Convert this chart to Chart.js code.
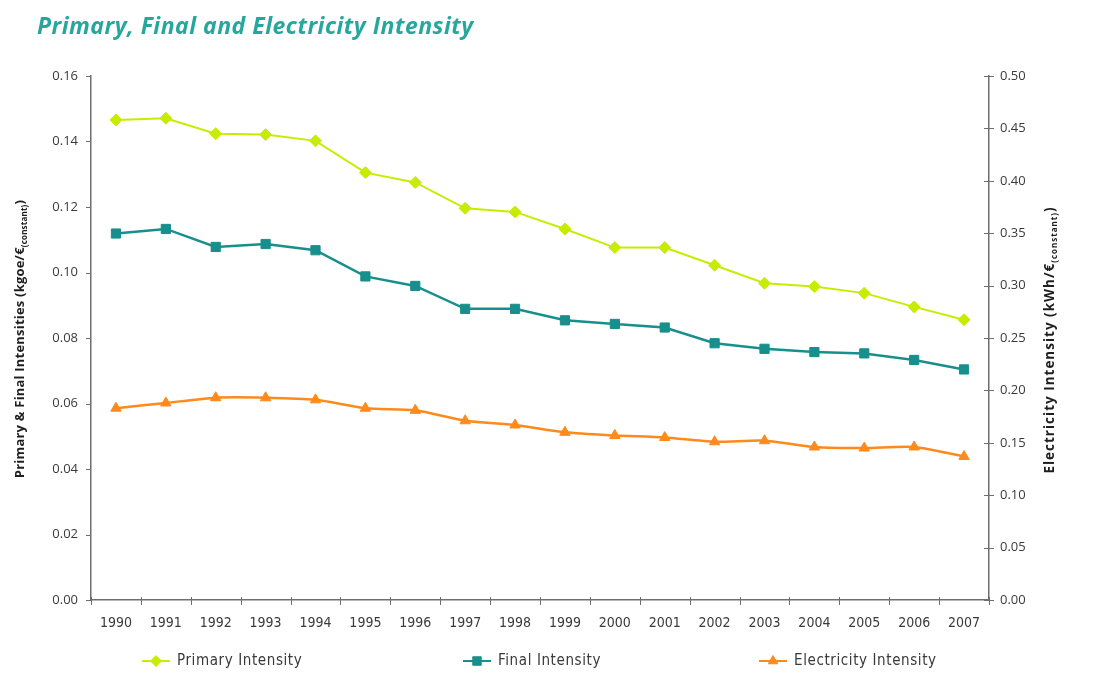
<!DOCTYPE html>
<html>
<head>
<meta charset="utf-8">
<script src="https://cdn.jsdelivr.net/npm/chart.js@4/dist/chart.umd.min.js"></script>
<style>
  html, body { margin: 0; padding: 0; background: #ffffff; }
  #wrap { width: 1099px; height: 684px; position: relative; }
</style>
</head>
<body>
<div id="wrap"><canvas id="chart" width="1099" height="684"></canvas></div>
<script>
// Years on the category axis
const years = ['1990','1991','1992','1993','1994','1995','1996','1997','1998',
               '1999','2000','2001','2002','2003','2004','2005','2006','2007'];

// Primary and final energy intensity, kgoe per constant euro (left axis)
const primaryIntensity = [0.1466, 0.1471, 0.1424, 0.1421, 0.1402, 0.1305, 0.1275, 0.1196, 0.1185,
                          0.1133, 0.1076, 0.1076, 0.1022, 0.0967, 0.0957, 0.0937, 0.0895, 0.0856];
const finalIntensity   = [0.1119, 0.1133, 0.1078, 0.1087, 0.1068, 0.0988, 0.0959, 0.0889, 0.0889,
                          0.0854, 0.0843, 0.0832, 0.0784, 0.0767, 0.0757, 0.0753, 0.0733, 0.0704];

// Electricity intensity, kWh per constant euro (right axis)
const electricityIntensity = [0.183, 0.188, 0.193, 0.193, 0.191, 0.183, 0.181, 0.171, 0.167,
                              0.160, 0.157, 0.155, 0.151, 0.152, 0.146, 0.145, 0.146, 0.137];

const seriesNames = ['Primary Intensity', 'Final Intensity', 'Electricity Intensity'];
const chartTitle = 'Primary, Final and Electricity Intensity';
const leftAxisTitle = ['Primary & Final Intensities (kgoe/\u20AC', '(constant)', ')'];
const rightAxisTitle = ['Electricity Intensity (kWh/\u20AC', '(constant)', ')'];

const COL_PRIMARY = '#c8ec00';
const COL_FINAL = '#178f8c';
const COL_ELEC = '#ff8a1c';
const AXIS_COL = '#6e6e6e';
const TEXT_COL = '#3a3a3a';
const FONT = '"Liberation Sans Narrow", "DejaVu Sans Condensed", "Open Sans", sans-serif';

// Title, rotated axis titles (with subscript), crossing tick marks and legend
const decorations = {
  id: 'decorations',
  afterDraw(chart) {
    const ctx = chart.ctx;
    const area = chart.chartArea;
    const yL = chart.scales.yL, yR = chart.scales.yR;
    ctx.save();

    // title
    ctx.fillStyle = '#26a79e';
    ctx.font = 'italic bold 23px "Open Sans", Lato, sans-serif';
    ctx.textBaseline = 'middle';
    ctx.textAlign = 'left';
    ctx.letterSpacing = '0.5px';
    ctx.fillText(chartTitle, 37, 27);
    ctx.letterSpacing = '0px';

    // tick marks
    ctx.strokeStyle = AXIS_COL;
    ctx.lineWidth = 1;
    ctx.beginPath();
    yL.ticks.forEach(t => {
      const py = Math.round(yL.getPixelForValue(t.value)) + 0.5;
      ctx.moveTo(area.left - 5, py); ctx.lineTo(area.left, py);
    });
    yR.ticks.forEach(t => {
      const py = Math.round(yR.getPixelForValue(t.value)) + 0.5;
      ctx.moveTo(area.right - 5, py); ctx.lineTo(area.right + 5, py);
    });
    const n = years.length;
    for (let i = 0; i <= n; i++) {
      const px = Math.round(area.left + i * (area.right - area.left) / n) + 0.5;
      ctx.moveTo(px, area.bottom - 3); ctx.lineTo(px, area.bottom + 5);
    }
    ctx.stroke();

    // rotated axis titles with subscript
    const drawRotTitle = (parts, cx, cy, size, spacing) => {
      const big = 'bold ' + size + 'px "Open Sans", "DejaVu Sans", sans-serif';
      const small = 'bold 8px "Open Sans", "DejaVu Sans", sans-serif';
      ctx.save();
      ctx.letterSpacing = spacing + 'px';
      ctx.font = big; const w0 = ctx.measureText(parts[0]).width;
      const w2 = ctx.measureText(parts[2]).width;
      ctx.font = small; const w1 = ctx.measureText(parts[1]).width;
      const total = w0 + w1 + w2;
      ctx.translate(cx, cy);
      ctx.rotate(-Math.PI / 2);
      ctx.fillStyle = '#1e1e1e';
      ctx.textBaseline = 'alphabetic';
      ctx.textAlign = 'left';
      let sx = -total / 2;
      ctx.font = big; ctx.fillText(parts[0], sx, 5); sx += w0;
      ctx.font = small; ctx.fillText(parts[1], sx, 8); sx += w1;
      ctx.font = big; ctx.fillText(parts[2], sx, 5);
      ctx.restore();
    };
    drawRotTitle(leftAxisTitle, 19, (area.top + area.bottom) / 2 + 1, 13, 0.2);
    drawRotTitle(rightAxisTitle, 1049, (area.top + area.bottom) / 2 + 2, 13.5, 1);

    // legend
    const legendX = [142, 463, 759];
    const legendY = 661;
    chart.data.datasets.forEach((ds, i) => {
      const lx = legendX[i];
      ctx.strokeStyle = ds.borderColor;
      ctx.lineWidth = 2;
      ctx.beginPath();
      ctx.moveTo(lx, legendY); ctx.lineTo(lx + 28, legendY);
      ctx.stroke();
      ctx.fillStyle = ds.backgroundColor;
      ctx.strokeStyle = ds.borderColor;
      ctx.lineWidth = 1;
      Chart.helpers.drawPoint(ctx, {
        pointStyle: ds.pointStyle, radius: ds.pointRadius - 0.5, rotation: 0, borderWidth: 1
      }, lx + 14, legendY);
      ctx.fillStyle = TEXT_COL;
      ctx.font = '15px ' + FONT;
      ctx.letterSpacing = '0.6px';
      ctx.textBaseline = 'middle';
      ctx.textAlign = 'left';
      ctx.fillText(ds.label, lx + 35, legendY);
      ctx.letterSpacing = '0px';
    });
    ctx.restore();
  }
};

const chart = new Chart(document.getElementById('chart'), {
  type: 'line',
  data: {
    labels: years,
    datasets: [
      {
        label: seriesNames[0], data: primaryIntensity, yAxisID: 'yL',
        borderColor: COL_PRIMARY, backgroundColor: COL_PRIMARY,
        borderWidth: 2, pointStyle: 'rectRot', pointRadius: 6, pointBorderWidth: 1,
        tension: 0
      },
      {
        label: seriesNames[1], data: finalIntensity, yAxisID: 'yL',
        borderColor: COL_FINAL, backgroundColor: COL_FINAL,
        borderWidth: 2.5, pointStyle: 'rect', pointRadius: 6.5, pointBorderWidth: 1,
        tension: 0
      },
      {
        label: seriesNames[2], data: electricityIntensity, yAxisID: 'yR',
        borderColor: COL_ELEC, backgroundColor: COL_ELEC,
        borderWidth: 2.5, pointStyle: 'triangle', pointRadius: 6, pointBorderWidth: 1,
        tension: 0.25
      }
    ]
  },
  options: {
    responsive: false,
    animation: false,
    layout: { padding: { top: 76, left: 0, right: 0, bottom: 0 } },
    plugins: {
      legend: { display: false },
      title: { display: false },
      tooltip: { enabled: false }
    },
    scales: {
      x: {
        offset: true,
        grid: { display: false, drawTicks: false },
        border: { display: true, color: AXIS_COL, width: 1.5 },
        ticks: { color: TEXT_COL, font: { family: FONT, size: 14 }, padding: 15, maxRotation: 0, autoSkip: false },
        afterFit(s) { s.height = 84; }
      },
      yL: {
        position: 'left',
        min: 0, max: 0.16,
        grid: { display: false, drawTicks: false },
        border: { display: true, color: AXIS_COL, width: 1.5 },
        ticks: {
          stepSize: 0.02, color: TEXT_COL, padding: 13,
          font: { family: '"Open Sans", "DejaVu Sans", sans-serif', size: 13 },
          callback: v => Number(v).toFixed(2)
        },
        afterFit(s) { s.width = 91; }
      },
      yR: {
        position: 'right',
        min: 0, max: 0.5,
        grid: { display: false, drawTicks: false },
        border: { display: true, color: AXIS_COL, width: 1.5 },
        ticks: {
          stepSize: 0.05, color: TEXT_COL, padding: 11,
          font: { family: '"Open Sans", "DejaVu Sans", sans-serif', size: 13 },
          callback: v => Number(v).toFixed(2)
        },
        afterFit(s) { s.width = 110; }
      }
    }
  },
  plugins: [decorations]
});
</script>
</body>
</html>
